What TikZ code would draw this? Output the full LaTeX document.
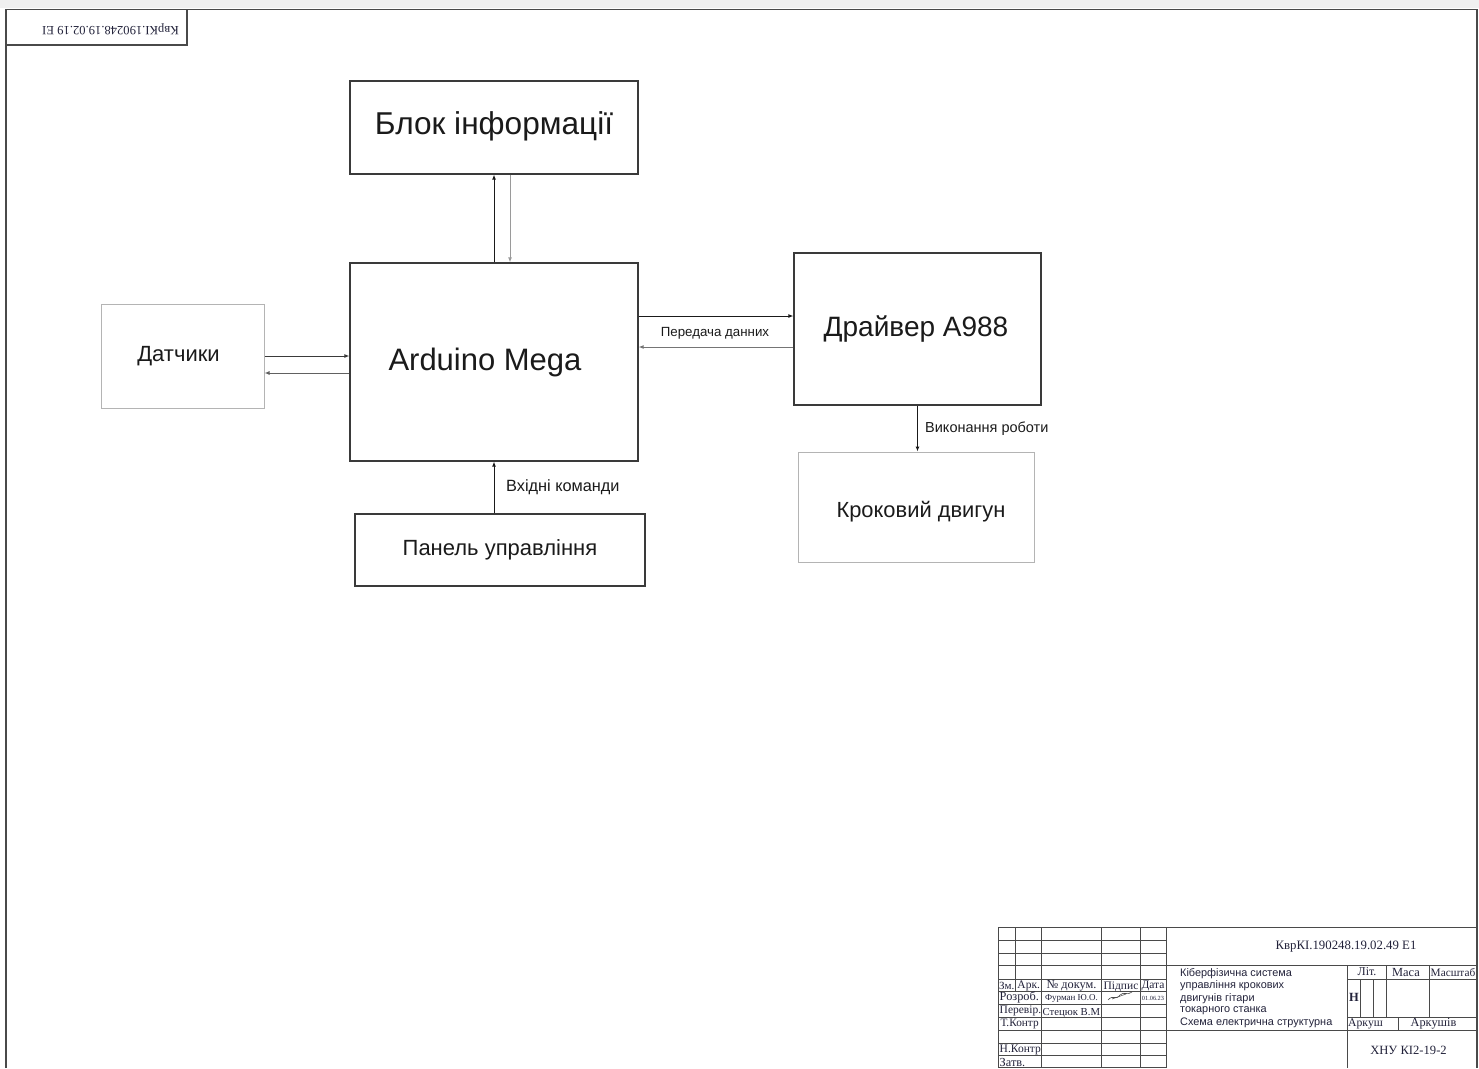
\documentclass[tikz,border=0pt]{standalone}
\usepackage{fontspec}
\setmainfont{Liberation Sans}
\newfontfamily\serf{Liberation Serif}
\usetikzlibrary{arrows.meta,calc}
\definecolor{ink}{HTML}{1A1A1A}
\definecolor{boxline}{HTML}{3A3A3A}
\definecolor{lightline}{HTML}{B4B4B4}
\definecolor{greyarr}{HTML}{9A9A9A}
\definecolor{tbink}{HTML}{22223A}
\definecolor{tbline}{HTML}{4A4A4A}
\tikzset{
  mainbox/.style={draw=boxline, line width=1.2pt, text=ink, inner sep=0pt},
  lightbox/.style={draw=lightline, line width=1pt, text=ink, inner sep=0pt},
  arr/.style={draw=ink, line width=1pt, -{Latex[length=5pt,width=4pt]}},
  arrg/.style={draw=greyarr, line width=1pt, -{Latex[length=5pt,width=4pt]}},
  lbl/.style={text=ink, inner sep=0pt},
  tb/.style={draw=tbline, line width=0.9pt},
  tbt/.style={text=tbink, inner sep=0pt, font=\serf\fontsize{12.3}{13}\selectfont},
  tbs/.style={text=tbink, inner sep=0pt, anchor=west, font=\fontsize{10.9}{11}\selectfont},
}
\begin{document}
\begin{tikzpicture}[x=1pt,y=-1pt]
\useasboundingbox (0,0) rectangle (1479,1068);
\fill[black!6] (0,0) rectangle (1479,8);
% outer frame
\draw[draw=tbline, line width=1.4pt] (6,1068) -- (6,9.5) -- (1477,9.5) -- (1477,1068);
% stamp
\draw[draw=tbline, line width=1.2pt] (6,9.5) rectangle (187,45);
\node[tbt, rotate=180, font=\serf\fontsize{12.6}{13}\selectfont] (stamp) at (110.5,29) {КврКІ.190248.19.02.19 ЕІ};

% blocks
\node[mainbox, minimum width=288pt, minimum height=93pt, font=\fontsize{31.6}{35}\selectfont] (info) at (494,127.5) {\raisebox{1pt}[\height][\depth]{Блок інформації}};
\node[mainbox, minimum width=288pt, minimum height=198pt, font=\fontsize{31}{35}\selectfont] (ard) at (494,362) {\hspace*{-18pt}Arduino Mega};
\node[lightbox, minimum width=163pt, minimum height=104pt, font=\fontsize{22}{25}\selectfont] (dat) at (182.5,356) {\hspace*{-8pt}Датчики};
\node[mainbox, minimum width=247pt, minimum height=152pt, font=\fontsize{28}{32}\selectfont] (drv) at (917.5,329) {\hspace*{-3pt}Драйвер А988};
\node[lightbox, minimum width=236pt, minimum height=110pt, font=\fontsize{21.9}{25}\selectfont] (krok) at (916,507) {\hspace*{10pt}\raisebox{-5pt}[\height][\depth]{Кроковий двигун}};
\node[mainbox, minimum width=290pt, minimum height=72pt, font=\fontsize{22}{25}\selectfont] (pan) at (500,550) {Панель управління};

% connectors
\draw[arr] (ard.north) -- (info.south);
\draw[arrg] ($(info.south)+(16,0)$) -- ($(ard.north)+(16,0)$);
\draw[arr, draw=boxline] (dat.east) -- (dat.east -| ard.west);
\coordinate (dr) at ($(ard.west)+(0,11)$);
\draw[arrg, draw=boxline!80] (dr) -- (dr -| dat.east);
\coordinate (d1) at ($(drv.west)+(0,-13)$);
\coordinate (d2) at ($(drv.west)+(0,18)$);
\draw[arr] (d1 -| ard.east) -- (d1);
\draw[arrg, draw=boxline!70] (d2) -- (d2 -| ard.east);
\node[lbl, font=\fontsize{13.3}{15}\selectfont] (lpd) at (715,333) {Передача данних};
\draw[arr] (drv.south) -- (drv.south |- krok.north);
\node[lbl, anchor=west, font=\fontsize{14.5}{16}\selectfont] (lvr) at (925,429) {Виконання роботи};
\draw[arr] (pan.north -| ard.south) -- (ard.south);
\node[lbl, anchor=west, font=\fontsize{16.3}{18}\selectfont] (lvk) at (506,487) {Вхідні команди};

% title block lines
\draw[tb] (998,927) -- (1477,927);
\foreach \yy in {940,953,965,979,991,1004,1017,1030,1043,1055}
  \draw[tb] (998,\yy) -- (1166,\yy);
\draw[tb] (998,1067) -- (1166,1067);
\draw[tb] (1166,965) -- (1477,965);
\draw[tb] (1347,979) -- (1477,979);
\draw[tb] (1347,1017) -- (1477,1017);
\draw[tb] (1166,1030) -- (1477,1030);
\foreach \xx in {998,1041.7,1101.7,1140,1166}
  \draw[tb] (\xx,927) -- (\xx,1068);
\draw[tb] (1015.7,927) -- (1015.7,991);
\draw[tb] (1347,965) -- (1347,1068);
\draw[tb] (1360,979) -- (1360,1017);
\draw[tb] (1373,979) -- (1373,1017);
\draw[tb] (1386,965) -- (1386,1017);
\draw[tb] (1429,965) -- (1429,1017);
\draw[tb] (1398,1017) -- (1398,1030);

% title block texts
\node[tbt, font=\serf\fontsize{12.8}{13}\selectfont] (code) at (1346,947) {КврКІ.190248.19.02.49 Е1};
\node[tbs] (d1t) at (1180,973.5) {Кіберфізична система};
\node[tbs] (d2t) at (1180,986) {управління крокових};
\node[tbs] (d3t) at (1180,998.5) {двигунів гітари};
\node[tbs] (d4t) at (1180,1011) {токарного станка};
\node[tbs] (d5t) at (1180,1022.5) {Схема електрична структурна};

\node[tbt, font=\serf\fontsize{11}{12}\selectfont] (zm) at (1006.8,985.5) {Зм.};
\node[tbt, font=\serf\fontsize{11.5}{12}\selectfont] (ark) at (1028.7,985.5) {Арк.};
\node[tbt] (ndoc) at (1071.5,985.5) {№ докум.};
\node[tbt, font=\serf\fontsize{11.5}{12}\selectfont] (pidp) at (1121,986.5) {Підпис};
\node[tbt, font=\serf\fontsize{11.5}{12}\selectfont] (data) at (1153,985.5) {Дата};
\node[tbt, anchor=west] (rozr) at (999.5,997.5) {Розроб.};
\node[tbt, font=\serf\fontsize{9}{10}\selectfont] (furm) at (1071.5,998) {Фурман Ю.О.};
\draw[tbline, line width=0.6pt] (1108,1000) .. controls (1113,994) and (1116,1001) .. (1120,995) .. controls (1124,991) and (1127,996) .. (1132,992);
\draw[tbline, line width=0.5pt] (1112,999) -- (1126,994);
\node[tbt, font=\serf\fontsize{6.3}{7}\selectfont] (dt) at (1153,998) {01.06.23};
\node[tbt, anchor=west, font=\serf\fontsize{11.5}{12}\selectfont] (perev) at (999.5,1011) {Перевір.};
\node[tbt, anchor=west, font=\serf\fontsize{10.7}{12}\selectfont] (stec) at (1042.5,1012.5) {Стецюк В.М};
\node[tbt, anchor=west, font=\serf\fontsize{11.3}{12}\selectfont] (tk) at (1000.5,1024) {Т.Контр};
\node[tbt, anchor=west, font=\serf\fontsize{11.5}{12}\selectfont] (nk) at (999.5,1049.5) {Н.Контр};
\node[tbt, anchor=west] (zatv) at (999.5,1062.5) {Затв.};

\node[tbt, font=\serf\fontsize{12}{13}\selectfont] (lit) at (1367,972) {Літ.};
\node[tbt, font=\serf\fontsize{12.4}{13}\selectfont] (masa) at (1406,972) {Маса};
\node[tbt, font=\serf\fontsize{11.3}{12}\selectfont] (mash) at (1453,972.5) {Масштаб};
\node[tbt, font=\serf\bfseries\fontsize{12.5}{13}\selectfont] (hh) at (1354,997.5) {Н};
\node[tbt, font=\serf\fontsize{11.7}{12}\selectfont] (arkush) at (1365.5,1024) {Аркуш};
\node[tbt, font=\serf\fontsize{12.3}{13}\selectfont] (arkushiv) at (1433.5,1024) {Аркушів};
\node[tbt, font=\serf\fontsize{12.6}{13}\selectfont] (hnu) at (1408.5,1050.5) {ХНУ КІ2-19-2};
\end{tikzpicture}
\end{document}
